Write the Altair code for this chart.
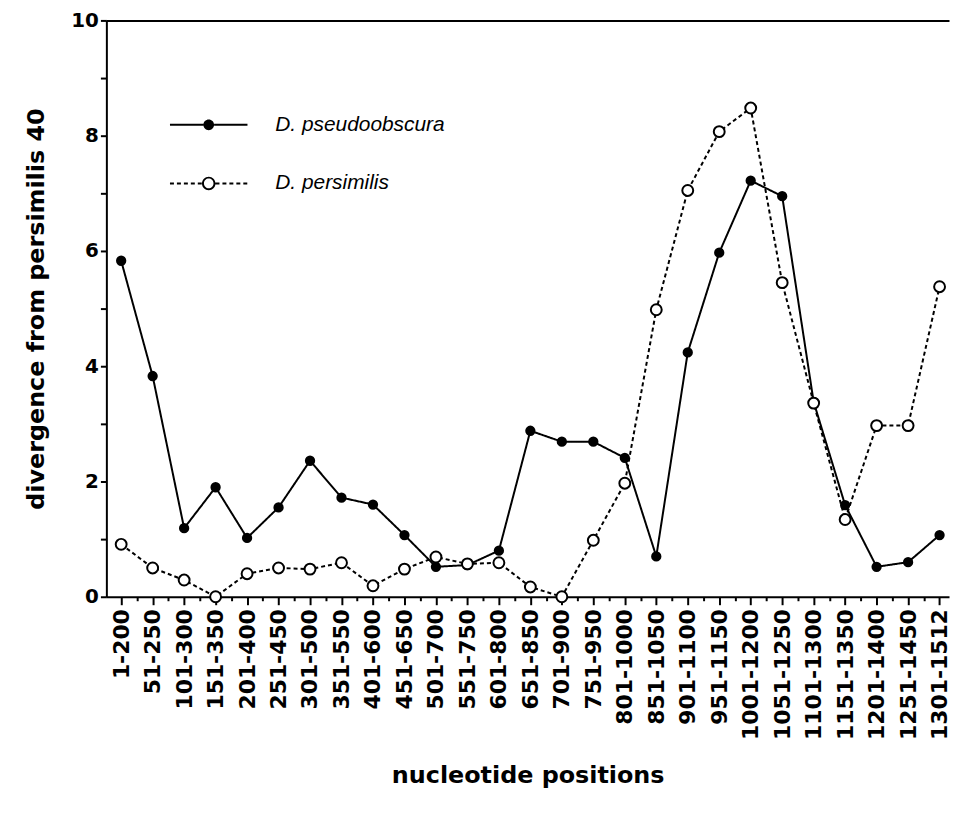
import json
import altair as alt
import pandas as pd

categories = ["1-200", "51-250", "101-300", "151-350", "201-400", "251-450", "301-500",
              "351-550", "401-600", "451-650", "501-700", "551-750", "601-800", "651-850",
              "701-900", "751-950", "801-1000", "851-1050", "901-1100", "951-1150",
              "1001-1200", "1051-1250", "1101-1300", "1151-1350", "1201-1400",
              "1251-1450", "1301-1512"]
pseudoobscura = [5.83, 3.83, 1.19, 1.90, 1.02, 1.55, 2.36, 1.72, 1.60, 1.07, 0.52, 0.55,
                 0.80, 2.88, 2.69, 2.69, 2.41, 0.70, 4.24, 5.97, 7.22, 6.95, 3.38, 1.59,
                 0.52, 0.60, 1.07]
persimilis = [0.91, 0.50, 0.29, 0.0, 0.40, 0.50, 0.48, 0.59, 0.19, 0.48, 0.69, 0.57,
              0.59, 0.17, 0.0, 0.98, 1.97, 4.98, 7.05, 8.07, 8.48, 5.45, 3.36, 1.34,
              2.97, 2.97, 5.38]
series_names = ["D. pseudoobscura", "D. persimilis"]

rows = []
for name, vals in zip(series_names, [pseudoobscura, persimilis]):
    for i, (c, v) in enumerate(zip(categories, vals)):
        rows.append({"idx": i, "category": c, "series": name, "value": v})
df = pd.DataFrame(rows)
legend_df = pd.DataFrame({"series": series_names})

# legend symbols (fill-only paths, unit coords scaled by sqrt(size)/2):
# a line sample drawn as thin bars plus a disc (solid) or a ring (open marker)
HW = 0.05  # half line thickness


def bar(x0, x1):
    return f"M{x0:.3f},{-HW}L{x1:.3f},{-HW}L{x1:.3f},{HW}L{x0:.3f},{HW}Z"


def disc(r, sweep=1):
    return f"M{r},0A{r},{r},0,1,{sweep},{-r},0A{r},{r},0,1,{sweep},{r},0Z"


half = 1.95
solid_path = bar(-half, -0.27) + bar(0.27, half) + disc(0.27)
dash_on, dash_off, gap = 0.2, 0.15, 0.34
segs = []
x = -half
while x < -gap:
    segs.append(bar(x, min(x + dash_on, -gap)))
    x += dash_on + dash_off
x = gap
while x < half:
    segs.append(bar(x, min(x + dash_on, half)))
    x += dash_on + dash_off
dashed_path = "".join(segs) + disc(0.34, 1) + disc(0.24, 0)

AX_FONT = "DejaVu Sans"
cats_js = json.dumps(categories)

x_scale = alt.Scale(domain=[-0.47, 26.3], nice=False, zero=False)
y_scale = alt.Scale(domain=[0, 10], nice=False)

x_bottom = alt.Axis(
    values=[i * 0.5 for i in range(0, 53)],
    labelExpr=f"datum.value % 1 === 0 ? {cats_js}[datum.value] : ''",
    labelAngle=-90, labelFont=AX_FONT, labelFontWeight="bold", labelFontSize=22,
    labelColor="black", labelPadding=4, labelOverlap=False, labelFlush=False,
    labelBound=False,
    tickSize={"condition": {"test": "datum.value % 1 === 0", "value": 8}, "value": 4},
    tickColor="black", tickWidth=2, domainColor="black", domainWidth=2,
    grid=False, title="nucleotide positions", titleFont=AX_FONT, titleFontSize=24,
    titleFontWeight="bold", titleColor="black", titlePadding=24,
)
x_top = alt.Axis(orient="top", labels=False, ticks=False, domain=True,
                 domainColor="black", domainWidth=2, grid=False, title=None)
y_axis = alt.Axis(
    values=list(range(0, 11)),
    labelExpr="datum.value % 2 === 0 ? format(datum.value, 'd') : ''",
    labelFont=AX_FONT, labelFontWeight="bold", labelFontSize=20, labelColor="black",
    labelPadding=2, tickSize=6, tickColor="black", tickWidth=2,
    domainColor="black", domainWidth=2, grid=False,
    title="divergence from persimilis 40", titleFont=AX_FONT, titleFontSize=24,
    titleFontWeight="bold", titleColor="black", titlePadding=22,
)

legend = alt.Legend(
    title=None, orient="none", legendX=83, legendY=85, symbolSize=1600,
    symbolStrokeWidth=0, symbolOpacity=1,
    labelFont="Liberation Sans", labelFontStyle="italic", labelFontSize=21,
    labelColor="black", labelOffset=47, rowPadding=29, labelLimit=0,
)

# reversed domain order keeps these legend-less scales apart from the legend
rev_names = series_names[::-1]

base = alt.Chart(df)

lines = base.mark_line(color="black", strokeWidth=2).encode(
    x=alt.X("idx:Q", scale=x_scale, axis=x_bottom),
    y=alt.Y("value:Q", scale=y_scale, axis=y_axis),
    detail="series:N",
    strokeDash=alt.StrokeDash("series:N", scale=alt.Scale(domain=rev_names,
                              range=[[4, 3], [1, 0]]), legend=None),
)

points = base.mark_point(stroke="black", strokeWidth=2, opacity=1).encode(
    x=alt.X("idx:Q", scale=x_scale, axis=x_top),
    y=alt.Y("value:Q", scale=y_scale),
    fill=alt.Fill("series:N", scale=alt.Scale(domain=rev_names, range=["white", "black"]),
                  legend=None),
    size=alt.Size("series:N", scale=alt.Scale(domain=rev_names, range=[120, 70]),
                  legend=None),
)

legend_layer = alt.Chart(legend_df).mark_point(
    filled=True, opacity=0
).encode(
    color=alt.Color("series:N", scale=alt.Scale(domain=series_names,
                    range=["black", "black"]), legend=legend),
    shape=alt.Shape("series:N", scale=alt.Scale(domain=series_names,
                    range=[solid_path, dashed_path]), legend=legend),
)

chart = alt.layer(lines, points, legend_layer).resolve_axis(x="independent").properties(
    width=848, height=580, background="white",
    padding={"left": 17, "top": 0, "right": 0, "bottom": 5},
).configure_view(stroke=None)

chart.save("out.html", embed_options={"renderer": "svg", "actions": False})
